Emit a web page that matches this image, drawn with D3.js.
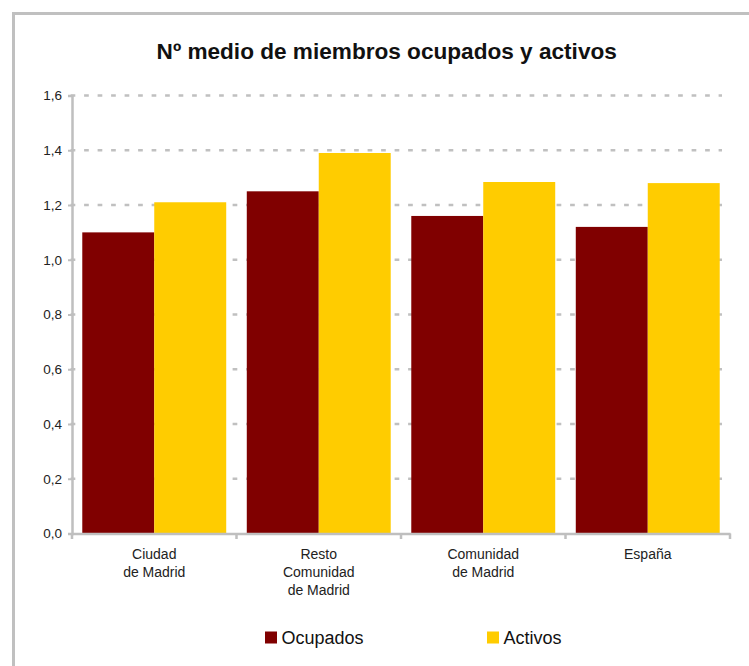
<!DOCTYPE html>
<html>
<head>
<meta charset="utf-8">
<script src="https://cdn.jsdelivr.net/npm/d3@7"></script>
<style>
  html, body { margin: 0; padding: 0; background: #fff; }
  svg { display: block; font-family: "Liberation Sans", Arial, sans-serif; }
</style>
</head>
<body>
<svg id="chart" width="749" height="666"></svg>
<script>
const title = "Nº medio de miembros ocupados y activos";
const categories = ["Ciudad\nde Madrid", "Resto\nComunidad\nde Madrid", "Comunidad\nde Madrid", "España"];
const seriesNames = ["Ocupados", "Activos"];
const ocupados = [1.10, 1.25, 1.16, 1.12];
const activos = [1.21, 1.39, 1.284, 1.28];
const yTicks = [0, 0.2, 0.4, 0.6, 0.8, 1.0, 1.2, 1.4, 1.6];
const colors = ["#800000", "#FFCC00"];

(function () {
const seriesValues = [ocupados, activos];
const svg = d3.select("#chart");

const esLocale = d3.formatLocale({decimal: ",", thousands: ".", grouping: [3], currency: ["", "€"]});
const fmt = esLocale.format(".1f");

// outer frame
svg.append("rect")
  .attr("x", 13.5).attr("y", 13.5)
  .attr("width", 800).attr("height", 720)
  .attr("fill", "#fff")
  .attr("stroke", "#c0c0c0").attr("stroke-width", 3);

const pLeft = 72, pRight = 730, pTop = 95.5, pBottom = 533.5;

const y = d3.scaleLinear().domain([0, 1.6]).range([pBottom, pTop]);
const x0 = d3.scaleBand().domain(categories).range([pLeft, pRight]).paddingInner(0.125).paddingOuter(0.0625);
const x1 = d3.scaleBand().domain(seriesNames).range([0, x0.bandwidth()]).padding(0);

// title
svg.append("text")
  .attr("x", 386.7).attr("y", 58.5)
  .attr("text-anchor", "middle")
  .attr("font-size", 22.6).attr("font-weight", "bold")
  .attr("fill", "#111")
  .text(title);

// gridlines
svg.append("g").selectAll("line")
  .data(yTicks.filter(d => d > 0))
  .join("line")
  .attr("x1", 70.6).attr("x2", 722)
  .attr("y1", d => y(d)).attr("y2", d => y(d))
  .attr("stroke", "#c0c0c0").attr("stroke-width", 2.7)
  .attr("stroke-dasharray", "4.7,8.8");

// bars
const groups = svg.append("g").selectAll("g")
  .data(categories)
  .join("g")
  .attr("transform", d => `translate(${x0(d)},0)`);

groups.selectAll("rect")
  .data((d, i) => seriesNames.map((s, j) => ({s, v: seriesValues[j][i], c: colors[j]})))
  .join("rect")
  .attr("x", d => x1(d.s))
  .attr("width", x1.bandwidth())
  .attr("y", d => y(d.v))
  .attr("height", d => pBottom - y(d.v))
  .attr("fill", d => d.c);

// y axis
const yAxis = svg.append("g")
  .attr("transform", `translate(${pLeft},0)`)
  .call(d3.axisLeft(y).tickValues(yTicks).tickFormat(fmt).tickSizeOuter(0).tickSize(4).tickPadding(6));
yAxis.select(".domain").attr("stroke", "#bfbfbf").attr("stroke-width", 2.5);
yAxis.selectAll(".tick line").attr("stroke", "#bfbfbf").attr("stroke-width", 2);
yAxis.selectAll(".tick text")
  .attr("font-size", 13.5).attr("fill", "#222")
  .attr("font-family", "Liberation Sans, Arial, sans-serif");

// x axis
const xAxis = svg.append("g")
  .attr("transform", `translate(0,${pBottom})`)
  .call(d3.axisBottom(x0).tickSize(0).tickSizeOuter(0).tickPadding(0).tickFormat(""));
xAxis.select(".domain").attr("stroke", "#bfbfbf").attr("stroke-width", 2.5);
xAxis.selectAll(".tick").remove();

// boundary ticks
const boundaries = d3.range(categories.length + 1).map(i => pLeft + i * x0.step());
xAxis.selectAll("line.bound")
  .data(boundaries)
  .join("line")
  .attr("class", "bound")
  .attr("x1", d => d).attr("x2", d => d)
  .attr("y1", 0).attr("y2", 5.5)
  .attr("stroke", "#bfbfbf").attr("stroke-width", 2.5);

// category labels
const labels = svg.append("g").selectAll("text")
  .data(categories)
  .join("text")
  .attr("text-anchor", "middle")
  .attr("font-size", 14).attr("fill", "#222")
  .attr("transform", d => `translate(${x0(d) + x0.bandwidth() / 2},${pBottom + 25.8})`);
labels.selectAll("tspan")
  .data(d => d.split("\n"))
  .join("tspan")
  .attr("x", 0)
  .attr("y", (d, i) => i * 17.8)
  .text(d => d);

// legend
const legendX = [265, 487];
const legend = svg.append("g").selectAll("g")
  .data(seriesNames)
  .join("g")
  .attr("transform", (d, i) => `translate(${legendX[i]},631.5)`);
legend.append("rect")
  .attr("width", 12).attr("height", 12)
  .attr("fill", (d, i) => colors[i]);
legend.append("text")
  .attr("x", 16.5).attr("y", 12)
  .attr("font-size", 18).attr("fill", "#111")
  .text(d => d);
})();
</script>
</body>
</html>
